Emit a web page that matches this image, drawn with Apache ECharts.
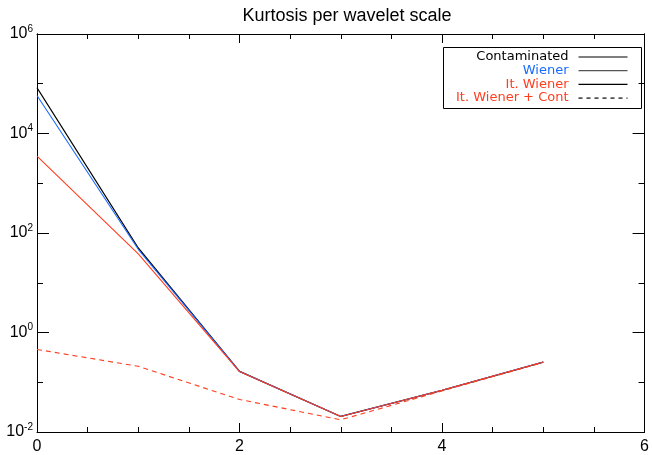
<!DOCTYPE html>
<html>
<head>
<meta charset="utf-8">
<script src="https://cdn.jsdelivr.net/npm/echarts@6/dist/echarts.min.js"></script>
<style>
  html, body { margin: 0; padding: 0; background: #fff; }
  #chart { width: 652px; height: 455px; }
</style>
</head>
<body>
<div id="chart"></div>
<script>
// Wavelet scale index
const scales = [0, 1, 2, 3, 4, 5];
// Kurtosis per scale for each reconstruction
const contaminated = [8.3e4, 50, 0.166, 0.0205, 0.069, 0.255];
const wiener = [5.8e4, 47, 0.166, 0.0205, 0.069, 0.255];
const itWiener = [3.5e3, 38, 0.164, 0.0205, 0.069, 0.255];
const itWienerCont = [0.457, 0.209, 0.045, 0.0176, 0.067, 0.25];

const seriesNames = ['Contaminated', 'Wiener', 'It. Wiener', 'It. Wiener + Cont'];
const seriesColors = ['#000000', '#1a6bff', '#ff3d1f', '#ff3d1f'];
const xTicks = [0, 2, 4, 6];

const pairs = (ys) => scales.map((x, i) => [x, ys[i]]);

const FONT = '"Liberation Sans", Helvetica, Arial, sans-serif';
const LEGEND_FONT = '"DejaVu Sans", Verdana, sans-serif';
const chart = echarts.init(document.getElementById('chart'), null, { renderer: 'canvas' });

function powLabel(v) {
  const e = Math.round(Math.log10(v));
  if (e % 2 !== 0) return '';
  return '{b|10}{s|' + e + '}';
}

const yBase = {
  type: 'log', logBase: 10, min: 0.01, max: 1e6,
  splitLine: { show: false },
  axisLine: { show: true, lineStyle: { color: '#000', width: 1 } }
};

const xBase = {
  type: 'value', min: 0, max: 6, interval: 2,
  splitLine: { show: false },
  axisLine: { show: true, onZero: false, lineStyle: { color: '#000', width: 1 } },
  axisTick: { show: true, inside: true, length: 9, lineStyle: { color: '#000' } },
  minorTick: { show: true, splitNumber: 4, length: 5, lineStyle: { color: '#000' } }
};

const option = {
  animation: false,
  backgroundColor: '#fff',
  title: {
    text: 'Kurtosis per wavelet scale',
    left: 342, top: 2, textAlign: 'center',
    textStyle: { fontFamily: FONT, fontSize: 18, fontWeight: 'normal', color: '#000' }
  },
  grid: { left: 37, right: 5, top: 34, bottom: 22, containLabel: false },
  xAxis: [
    Object.assign({}, xBase, {
      position: 'bottom',
      axisLabel: {
        show: true, margin: 7, color: '#000', fontFamily: FONT, fontSize: 16,
        formatter: (v) => xTicks.includes(v) ? String(v) : ''
      }
    }),
    Object.assign({}, xBase, { position: 'top', axisLabel: { show: false } })
  ],
  yAxis: [
    Object.assign({}, yBase, {
      position: 'left', interval: 2,
      axisTick: { show: true, inside: true, length: 12, lineStyle: { color: '#000' } },
      axisLabel: {
        show: true, margin: 4, color: '#000', fontFamily: FONT,
        formatter: powLabel,
        rich: {
          b: { fontSize: 16, fontFamily: FONT, color: '#000' },
          s: { fontSize: 10, fontFamily: FONT, color: '#000', padding: [0, 0, 10, 0] }
        }
      }
    }),
    Object.assign({}, yBase, {
      position: 'left', interval: 1,
      axisTick: { show: true, inside: true, length: 6, lineStyle: { color: '#000' } },
      axisLabel: { show: false }
    }),
    Object.assign({}, yBase, {
      position: 'right', interval: 2,
      axisTick: { show: true, inside: true, length: 12, lineStyle: { color: '#000' } },
      axisLabel: { show: false }
    }),
    Object.assign({}, yBase, {
      position: 'right', interval: 1,
      axisTick: { show: true, inside: true, length: 6, lineStyle: { color: '#000' } },
      axisLabel: { show: false }
    })
  ],
  series: [contaminated, wiener, itWiener, itWienerCont].map((ys, i) => ({
    name: seriesNames[i],
    type: 'line',
    xAxisIndex: 0, yAxisIndex: 0,
    data: pairs(ys),
    showSymbol: false,
    symbol: 'none',
    lineStyle: {
      color: seriesColors[i],
      width: i === 0 ? 1.3 : 1.1,
      type: i === 3 ? [5, 4] : 'solid'
    },
    z: 2 + i
  })),
  graphic: [{
    type: 'group', left: 443, top: 47,
    children: [
      { type: 'rect', shape: { x: 0, y: 0, width: 198, height: 61 },
        style: { fill: '#fff', stroke: '#000', lineWidth: 1 } }
    ].concat(seriesNames.flatMap((name, i) => [
      { type: 'text', x: 125, y: 9.5 + i * 13.7,
        style: { text: name, fill: seriesColors[i], font: '13px ' + LEGEND_FONT,
                 align: 'right', verticalAlign: 'middle' } },
      { type: 'line', shape: { x1: 135, y1: 9.5 + i * 13.7, x2: 184, y2: 9.5 + i * 13.7 },
        style: { stroke: i === 1 ? '#555' : '#000', lineWidth: 1.2,
                 lineDash: i === 3 ? [4, 4] : null } }
    ]))
  }]
};

chart.setOption(option);
</script>
</body>
</html>
